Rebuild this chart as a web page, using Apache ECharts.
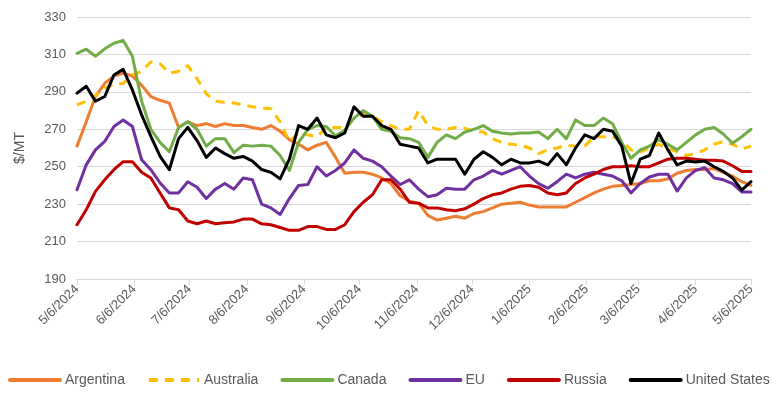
<!DOCTYPE html>
<html>
<head>
<meta charset="utf-8">
<script src="https://cdn.jsdelivr.net/npm/echarts@6/dist/echarts.min.js"></script>
<style>
html,body{margin:0;padding:0;background:#fff;}
#chart{width:776px;height:395px;}
</style>
</head>
<body>
<div id="chart"></div>
<script>
// Sample dates (every 5 days)
const dates = [
'2024-05-06','2024-05-11','2024-05-16','2024-05-21','2024-05-26','2024-05-31','2024-06-05','2024-06-10','2024-06-15','2024-06-20',
'2024-06-25','2024-06-30','2024-07-05','2024-07-10','2024-07-15','2024-07-20','2024-07-25','2024-07-30','2024-08-04','2024-08-09',
'2024-08-14','2024-08-19','2024-08-24','2024-08-29','2024-09-03','2024-09-08','2024-09-13','2024-09-18','2024-09-23','2024-09-28',
'2024-10-03','2024-10-08','2024-10-13','2024-10-18','2024-10-23','2024-10-28','2024-11-02','2024-11-07','2024-11-12','2024-11-17',
'2024-11-22','2024-11-27','2024-12-02','2024-12-07','2024-12-12','2024-12-17','2024-12-22','2024-12-27','2025-01-01','2025-01-06',
'2025-01-11','2025-01-16','2025-01-21','2025-01-26','2025-01-31','2025-02-05','2025-02-10','2025-02-15','2025-02-20','2025-02-25',
'2025-03-02','2025-03-07','2025-03-12','2025-03-17','2025-03-22','2025-03-27','2025-04-01','2025-04-06','2025-04-11','2025-04-16',
'2025-04-21','2025-04-26','2025-05-01','2025-05-06'
];

const argentina = [
261,274,287.5,294.5,298.5,300,298.5,293.5,287.5,285.5,
284,271,274,272,273,271.5,273,272,272,271,
270,272,269,264.5,262,259,261.5,263,255,246.5,
247,247,246,244,241,234.5,231.5,230.5,224,221.5,
222.5,223.5,222.5,225,226,228,230,230.5,231,229.5,
228.5,228.5,228.5,228.5,231,233.5,236,238,239.5,240,
240.5,241,242.5,242.5,243.5,246.5,248,248.5,248.5,249,
247,245,242,240
];

const australia = [
283,285,288,292,294,294.5,299,301,306,305,
300,301,304,297,289,285,284.5,284,283,282,
281.5,281,274,263.5,268,267,266,271,271,271,
276,278,277,274,272,270,270,280,272,270,
270,271,270.5,269,268.5,265,263,262,261.5,260,
257,259,260,261.5,261,261,266,266,266,264,
259,258,260,262,260,258,256,257,259,262,
263.5,262,259.5,261
];

const canada = [
310.6,312.8,309,313,316,317.5,309,285,270,263,
258,271,274,270,261,265,265,257.5,261.5,261,
261.5,261,256,248,263,270,272,271.5,266.5,269.5,
276,280,277,270,269,265.5,265,263,255,263,
267,265,268.5,270,272,269,268,267.5,268,268,
268.5,265,270,265,275,272,272,276,273,263,
254.5,259,261,264.5,262,259,263,267,270,271,
267.5,262.5,266,270
];

const eu = [
237.7,251,259,263.5,271.5,275,271.5,253.7,248.4,241.3,
236,236,242,239,233,238,241,238,244,243,
230,228,224.5,233,240,240.5,250,245,248,252,
259,254.5,253,250,245,240.5,243,238,234,235,
238.5,238,238,243,245,248,246,248,250,245,
241,238.5,242,246,244,246,247,246,245,242.5,
236,241,244.5,246,246,237,244,248,249.5,244,
243,241,236.5,236.5
];

const russia = [
219,227,236.8,243,248.4,252.7,252.7,247,244,236,
228,227,221,219.5,221,219.5,220,220.5,222,222,
219.5,219,217.5,216,216,218,218,216.5,216.5,219,
226,231,235,243,243,238,231,230.5,228,228,
227,226.5,227.5,230,233,235,236,238,239.5,240,
239,236,235,236,241,244,246,248.5,250,250,
250.5,250,250,252,254,254.5,254.5,254,253.5,253.5,
253,250.5,247.5,247.5
];

const unitedStates = [
289.3,293,285,287.5,299,302,291,277.7,266.2,255.5,
248.4,265,271,264,255,260,257,254.5,255.5,253,
248.5,247,243.5,254,272,270,276,267,265.5,268,
282,277,277,272,270,262,261,260,252,254,
254,254,246,254,258,255,251,254,252,252,
253,251,257,251,260,267,265,270,269,261,
241,254,256,268,259,251,253,252.5,253,250,
247.5,244,237.5,242
];

const tickDates = [
'2024-05-06','2024-06-06','2024-07-06','2024-08-06','2024-09-06','2024-10-06','2024-11-06',
'2024-12-06','2025-01-06','2025-02-06','2025-03-06','2025-04-06','2025-05-06'
];

const seriesNames = ['Argentina','Australia','Canada','EU','Russia','United States'];
const seriesValues = [argentina, australia, canada, eu, russia, unitedStates];
const seriesColors = ['#ED7D31','#FFC000','#70AD47','#7030A0','#C00000','#000000'];

function toTs(s){ const p = s.split('-').map(Number); return Date.UTC(p[0], p[1]-1, p[2]); }
const tickTs = tickDates.map(toTs);

const FONT = 'Liberation Sans';
const chart = echarts.init(document.getElementById('chart'), null, {renderer:'canvas'});
chart.setOption({
  animation: false,
  textStyle: {fontFamily: FONT},
  grid: {left: 77, right: 25, top: 17, bottom: 116},
  legend: {
    left: 8, top: 373, width: 768, padding: 0, itemWidth: 50, itemHeight: 3, itemGap: 22,
    itemStyle: {opacity: 0},
    lineStyle: {width: 4},
    textStyle: {fontFamily: FONT, fontSize: 14, color: '#595959'},
    data: seriesNames
  },
  xAxis: {
    type: 'value',
    min: tickTs[0], max: tickTs[tickTs.length-1],
    axisLine: {show: true, onZero: false, lineStyle: {color: '#d9d9d9', width: 1}},
    axisTick: {show: true, customValues: tickTs, length: 6, lineStyle: {color: '#d9d9d9'}},
    splitLine: {show: false},
    axisLabel: {
      customValues: tickTs, rotate: 45, fontSize: 13, color: '#595959', fontFamily: FONT, margin: 8,
      formatter: function(v){ const d = new Date(v); return (d.getUTCMonth()+1) + '/' + d.getUTCDate() + '/' + d.getUTCFullYear(); }
    }
  },
  yAxis: {
    type: 'value', min: 190, max: 330, interval: 20,
    name: '$/MT', nameLocation: 'middle', nameGap: 50,
    nameTextStyle: {fontSize: 14, color: '#595959', fontFamily: FONT},
    axisLine: {show: false}, axisTick: {show: false},
    splitLine: {lineStyle: {color: '#d9d9d9', width: 1}},
    axisLabel: {fontSize: 13, color: '#595959', fontFamily: FONT, margin: 11}
  },
  series: seriesNames.map(function(name, i){
    return {
      name: name, type: 'line', symbol: 'none', showSymbol: false,
      data: dates.map(function(d, j){ return [toTs(d), seriesValues[i][j]]; }),
      lineStyle: {color: seriesColors[i], width: 3, type: name === 'Australia' ? [9, 7] : 'solid', join: 'round', cap: name === 'Australia' ? 'butt' : 'round'},
      itemStyle: {color: seriesColors[i]},
      z: 2 + i
    };
  })
});
</script>
</body>
</html>
